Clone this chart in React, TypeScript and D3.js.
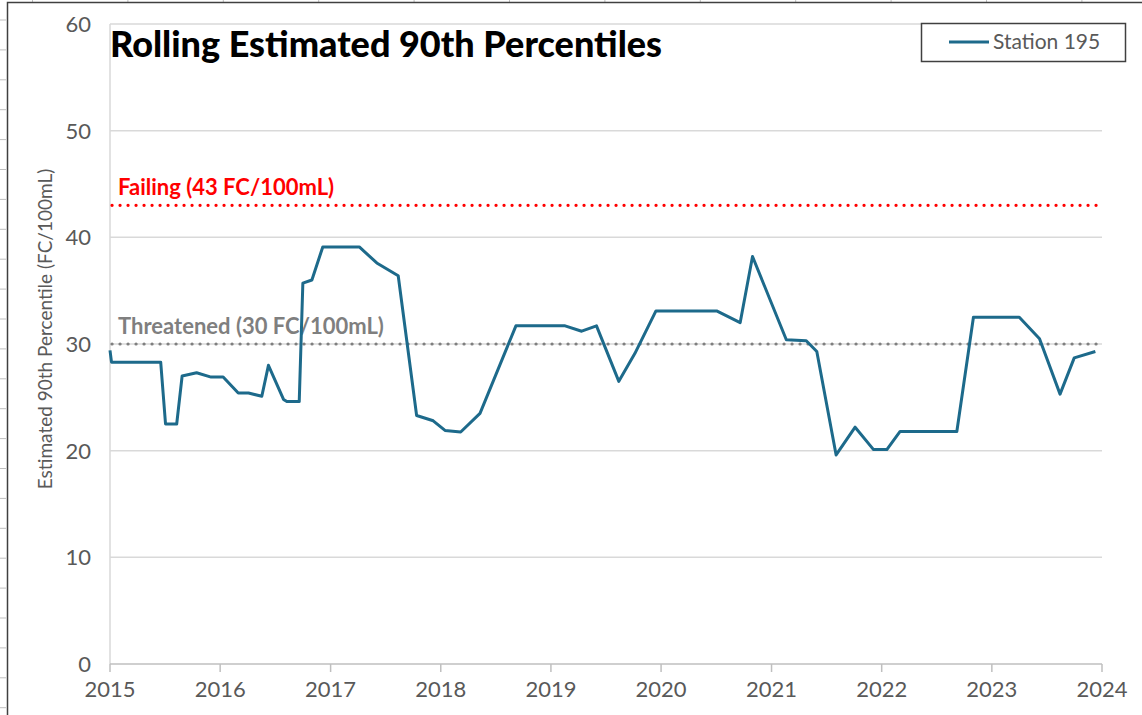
import React from "react"
import * as d3 from "d3"

// rolling estimated 90th percentile, Station 195
const dates = [
    "2015-01-01", "2015-01-06", "2015-06-18", "2015-07-04", "2015-08-10", "2015-08-28",
    "2015-10-15", "2015-12-02", "2016-01-11", "2016-03-01", "2016-04-04", "2016-05-18",
    "2016-06-09", "2016-07-29", "2016-08-09", "2016-09-19", "2016-10-01", "2016-10-31",
    "2016-12-06", "2017-04-06", "2017-06-03", "2017-08-13", "2017-10-13", "2017-12-07",
    "2018-01-15", "2018-03-08", "2018-05-11", "2018-09-07", "2019-02-17", "2019-04-13",
    "2019-06-01", "2019-08-14", "2019-10-06", "2019-12-15", "2020-07-03", "2020-09-19",
    "2020-10-30", "2021-02-19", "2021-04-26", "2021-05-31", "2021-08-03", "2021-10-05",
    "2021-12-05", "2022-01-18", "2022-03-03", "2022-09-07", "2022-11-01", "2023-04-02",
    "2023-06-08", "2023-08-15", "2023-10-01", "2023-12-10",
]
const station195 = [
    29.4, 28.3, 28.3, 22.5, 22.5, 27.0,
    27.3, 26.9, 26.9, 25.4, 25.4, 25.1,
    28.0, 24.8, 24.6, 24.6, 35.7, 36.0,
    39.1, 39.1, 37.6, 36.4, 23.3, 22.8,
    21.9, 21.75, 23.5, 31.7, 31.7, 31.2,
    31.7, 26.5, 29.1, 33.1, 33.1, 32.0,
    38.2, 30.4, 30.3, 29.3, 19.6, 22.2,
    20.1, 20.1, 21.8, 21.8, 32.5, 32.5,
    30.5, 25.3, 28.7, 29.3,
]
const yTicks = [0, 10, 20, 30, 40, 50, 60]
const xYears = [2015, 2016, 2017, 2018, 2019, 2020, 2021, 2022, 2023, 2024]
const thresholds = [
    { value: 43, label: "Failing (43 FC/100mL)", color: "#ff0000" },
    { value: 30, label: "Threatened (30 FC/100mL)", color: "#7f7f7f" },
]

const W = 1142
const H = 715
const margin = { top: 24, right: 40, bottom: 51, left: 110 }
const FONT = "Lato, 'DejaVu Sans', sans-serif"
const textGray = "#595959"
const lineBlue = "#1d6a8b"

export default function App() {
    const parse = d3.timeParse("%Y-%m-%d")
    const data = dates.map((d, i) => ({ date: parse(d) as Date, value: station195[i] }))

    const x = d3.scaleTime()
        .domain([new Date(2015, 0, 1), new Date(2024, 0, 1)])
        .range([margin.left, W - margin.right])
    const y = d3.scaleLinear()
        .domain([0, 60])
        .range([H - margin.bottom, margin.top])

    const line = d3.line<{ date: Date, value: number }>()
        .x(d => x(d.date))
        .y(d => y(d.value))

    // spreadsheet grid remnants outside the chart frame
    const colMarks = d3.range(32.5, W, 95.4)
    const rowMarks = d3.range(20, H, 29.9)

    return (
        <svg width={W} height={H} style={{ position: "absolute", left: 0, top: 0, background: "#fff" }}>
            {colMarks.map((c, i) => (
                <line key={"c" + i} x1={c} x2={c} y1={0} y2={2} stroke="#bfbfbf" />
            ))}
            {rowMarks.map((r, i) => (
                <line key={"r" + i} x1={0} x2={6} y1={r} y2={r} stroke="#bfbfbf" />
            ))}
            <path d={`M7.5,${H} V2.5 H${W}`} fill="none" stroke="#404040" strokeWidth={1.5} />

            {/* gridlines */}
            {yTicks.filter(t => t > 0).map(t => (
                <line key={t} x1={x.range()[0]} x2={x.range()[1]} y1={y(t)} y2={y(t)}
                    stroke="#d9d9d9" strokeWidth={1.5} />
            ))}
            <line x1={x.range()[0]} x2={x.range()[0]} y1={y(0)} y2={y(60)} stroke="#d9d9d9" strokeWidth={1.5} />
            <line x1={x.range()[0]} x2={x.range()[1]} y1={y(0)} y2={y(0)} stroke="#bfbfbf" strokeWidth={1.5} />
            {xYears.map(yr => {
                const px = x(new Date(yr, 0, 1))
                return (
                    <g key={yr}>
                        <line x1={px} x2={px} y1={y(0)} y2={y(0) + 8} stroke="#bfbfbf" strokeWidth={1.5} />
                        <text x={px} y={y(0) + 33} textAnchor="middle" fontFamily={FONT}
                            fontSize={22} fill={textGray}>{yr}</text>
                    </g>
                )
            })}
            {yTicks.map(t => (
                <text key={t} x={91} y={y(t) + 8} textAnchor="end" fontFamily={FONT}
                    fontSize={22} fill={textGray}>{t}</text>
            ))}

            <text transform={`translate(52,${329}) rotate(-90)`} textAnchor="middle"
                fontFamily={FONT} fontSize={19} fill={textGray}>
                Estimated 90th Percentile (FC/100mL)
            </text>

            {/* threshold lines */}
            {thresholds.map(th => (
                <g key={th.value}>
                    <line x1={x.range()[0] + 2} x2={x.range()[1]} y1={y(th.value)} y2={y(th.value)}
                        stroke={th.color} strokeWidth={3.2} strokeLinecap="round" strokeDasharray="0.1 7.9" />
                    <text x={118} y={y(th.value) - 10} fontFamily={FONT} fontWeight="bold"
                        fontSize={22} fill={th.color}>{th.label}</text>
                </g>
            ))}

            <path d={line(data) || ""} fill="none" stroke={lineBlue} strokeWidth={3} strokeLinejoin="round" />

            <text x={110} y={57} fontFamily={FONT} fontWeight={900} fontSize={36} fill="#000">
                Rolling Estimated 90th Percentiles
            </text>

            {/* legend */}
            <rect x={921.5} y={23.5} width={204} height={38} fill="#fff" stroke="#404040" strokeWidth={1.5} />
            <line x1={949} x2={989} y1={42} y2={42} stroke={lineBlue} strokeWidth={3} />
            <text x={993} y={49} fontFamily={FONT} fontSize={21} fill={textGray}>Station 195</text>
        </svg>
    )
}
